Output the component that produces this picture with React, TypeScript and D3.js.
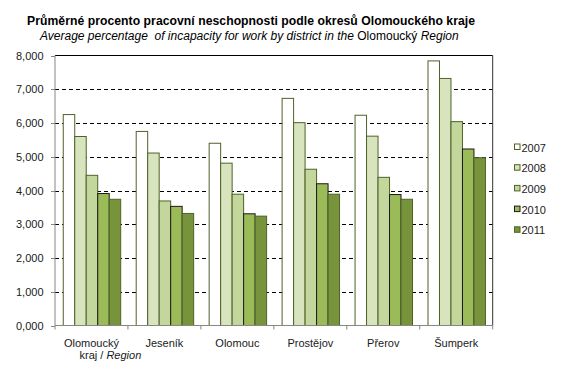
import React from "react";
import * as d3 from "d3";

const categories = ["Olomoucký kraj / Region", "Jeseník", "Olomouc", "Prostějov", "Přerov", "Šumperk"];
const years = ["2007", "2008", "2009", "2010", "2011"];
const v2007 = [6.25, 5.75, 5.4, 6.73, 6.23, 7.84];
const v2008 = [5.6, 5.11, 4.81, 6.01, 5.61, 7.32];
const v2009 = [4.45, 3.69, 3.89, 4.63, 4.39, 6.04];
const v2010 = [3.91, 3.53, 3.31, 4.2, 3.88, 5.23];
const v2011 = [3.74, 3.32, 3.24, 3.89, 3.74, 4.97];
const yTicks = [0, 1, 2, 3, 4, 5, 6, 7, 8];

const series = [v2007, v2008, v2009, v2010, v2011];
const fills = ["#ffffff", "#d7e4bd", "#c3d69b", "#9bbb59", "#77933c"];
const strokes = ["#4f6228", "#4f6228", "#4f6228", "#1a1a1a", "#4f6228"];

const W = 565, H = 377;
const L = 55, R = 492.7, T = 55.5, B = 325.5;

export default function App() {
  const x0 = d3.scaleBand<string>().domain(categories).range([L, R]).padding(0);
  const x1 = d3.scaleBand<string>().domain(years).range([7.75, x0.bandwidth() - 7.75]).padding(0);
  const y = d3.scaleLinear().domain([0, 8]).range([B, T]);
  const fmt = (v: number) => d3.format(".3f")(v).replace(".", ",");
  const font = "'Liberation Sans', Arial, sans-serif";

  return (
    <svg width={W} height={H} style={{ position: "absolute", left: 0, top: 0, background: "#fff" }} fontFamily={font}>
      <rect x={0} y={0} width={W} height={H} fill="#fff" />
      <text x={27} y={25} fontSize={12.2} fontWeight="bold" fill="#000" textLength={448} lengthAdjust="spacing">
        Průměrné procento pracovní neschopnosti podle okresů Olomouckého kraje
      </text>
      <text x={40} y={40} fontSize={12} fill="#000" style={{ whiteSpace: "pre" }}>
        <tspan fontStyle="italic">{"Average percentage  of incapacity for work by district in the "}</tspan>
        <tspan>{"Olomoucký "}</tspan>
        <tspan fontStyle="italic">Region</tspan>
      </text>

      {yTicks.filter(t => t > 0 && t < 8).map(t => (
        <line key={"g" + t} x1={L} x2={R} y1={Math.round(y(t)) + 0.5} y2={Math.round(y(t)) + 0.5}
          stroke="#000" strokeDasharray="4,3" strokeWidth={1} />
      ))}
      <line x1={L} x2={R} y1={T} y2={T} stroke="#000" strokeWidth={1} />
      <line x1={R} x2={R} y1={T} y2={B} stroke="#333" strokeWidth={1} />

      {categories.map((c, ci) => (
        <g key={c} transform={`translate(${x0(c)},0)`}>
          {years.map((yr, si) => {
            const v = series[si][ci];
            return (
              <rect key={yr} x={x1(yr)! + 0.5} y={y(v)} width={x1.bandwidth()} height={B - y(v)}
                fill={fills[si]} stroke={strokes[si]} strokeWidth={1} />
            );
          })}
        </g>
      ))}

      <line x1={L} x2={L} y1={T} y2={B} stroke="#868686" strokeWidth={1} />
      <line x1={L} x2={R} y1={B} y2={B} stroke="#868686" strokeWidth={1} />
      {yTicks.map(t => (
        <g key={"t" + t}>
          <line x1={L - 4} x2={L} y1={Math.round(y(t)) + 0.5} y2={Math.round(y(t)) + 0.5} stroke="#868686" />
          <text x={43.5} y={y(t) + 4} textAnchor="end" fontSize={11} fill="#1a1a1a">{fmt(t)}</text>
        </g>
      ))}
      {d3.range(categories.length + 1).map(i => {
        const xx = i < categories.length ? x0(categories[i])! : R;
        return <line key={"xt" + i} x1={xx} x2={xx} y1={B} y2={B + 4} stroke="#868686" />;
      })}
      {categories.map((c, ci) => {
        const cx = x0(c)! + x0.bandwidth() / 2;
        if (ci === 0) {
          return (
            <g key={"l" + c}>
              <text x={cx} y={346.5} textAnchor="middle" fontSize={11} fill="#1a1a1a">Olomoucký</text>
              <text x={79.5} y={358.5} textAnchor="start" fontSize={11} fill="#1a1a1a">
                <tspan>kraj / </tspan><tspan fontStyle="italic">Region</tspan>
              </text>
            </g>
          );
        }
        return <text key={"l" + c} x={cx} y={346.5} textAnchor="middle" fontSize={11} fill="#1a1a1a">{c}</text>;
      })}

      {years.map((yr, si) => {
        const ly = 147.5 + si * 20.7;
        return (
          <g key={"lg" + yr}>
            <rect x={514.5} y={ly - 3.5} width={5.5} height={5.5} fill={fills[si]} stroke={strokes[si]} />
            <text x={521.5} y={ly + 4} fontSize={11} fill="#1a1a1a">{yr}</text>
          </g>
        );
      })}
    </svg>
  );
}
